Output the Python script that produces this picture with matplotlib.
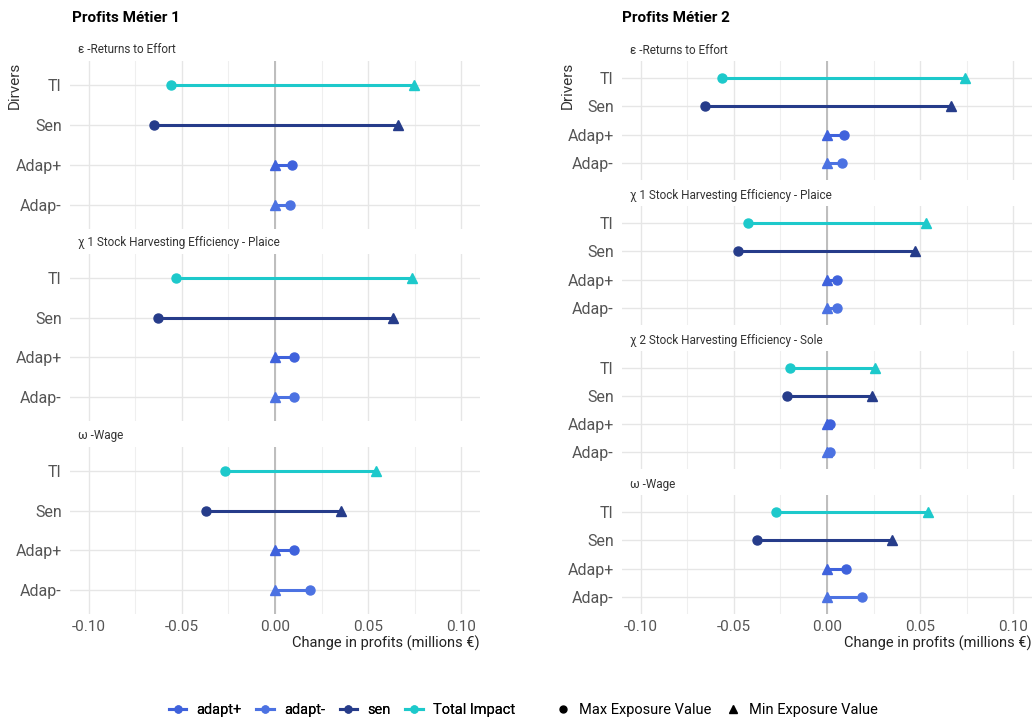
import numpy as np
import matplotlib
matplotlib.use("Agg")
import matplotlib.pyplot as plt
from matplotlib.lines import Line2D

plt.rcParams['font.family'] = ['Roboto', 'DejaVu Sans']

drivers = ["TI", "Sen", "Adap+", "Adap-"]
series = ["Total Impact", "sen", "adapt+", "adapt-"]
colors = {"adapt+": "#3F62DC", "adapt-": "#4C72E2", "sen": "#263C8A", "Total Impact": "#1DC9CB"}

# Profits Métier 1
m1_facets = ["ε -Returns to Effort", "χ 1 Stock Harvesting Efficiency - Plaice", "ω -Wage"]
m1_max = [[-0.0557, -0.0650, 0.0090, 0.0080],
          [-0.0530, -0.0630, 0.0100, 0.0100],
          [-0.0270, -0.0370, 0.0100, 0.0190]]
m1_min = [[0.0745, 0.0660, 0.0, 0.0],
          [0.0735, 0.0635, 0.0, 0.0],
          [0.0540, 0.0355, 0.0, 0.0]]

# Profits Métier 2
m2_facets = ["ε -Returns to Effort", "χ 1 Stock Harvesting Efficiency - Plaice",
             "χ 2 Stock Harvesting Efficiency - Sole", "ω -Wage"]
m2_max = [[-0.0565, -0.0655, 0.0090, 0.0080],
          [-0.0425, -0.0480, 0.0055, 0.0055],
          [-0.0200, -0.0215, 0.0015, 0.0015],
          [-0.0275, -0.0375, 0.0100, 0.0190]]
m2_min = [[0.0740, 0.0665, 0.0, 0.0],
          [0.0530, 0.0470, 0.0, 0.0],
          [0.0260, 0.0240, 0.0, 0.0],
          [0.0540, 0.0350, 0.0, 0.0]]

ticks = [-0.10, -0.05, 0.00, 0.05, 0.10]
tick_labels = ["-0.10", "-0.05", "0.00", "0.05", "0.10"]

W, H = 1035, 725
fig = plt.figure(figsize=(W / 100, H / 100), dpi=100)


def px_axes(x0, x1, y0, y1):
    return fig.add_axes([x0 / W, 1 - y1 / H, (x1 - x0) / W, (y1 - y0) / H])


def draw_facet(ax, title, vmax, vmin, show_x):
    y = np.arange(len(drivers))[::-1]
    ax.set_xlim(-0.11, 0.11)
    ax.set_ylim(-0.6, len(drivers) - 0.4)
    for s in ax.spines.values():
        s.set_visible(False)
    ax.set_xticks(ticks)
    ax.set_xticks([-0.075, -0.025, 0.025, 0.075], minor=True)
    ax.grid(True, which='major', color='#e6e6e6', lw=1.0)
    ax.grid(True, which='minor', axis='x', color='#efefef', lw=0.8)
    ax.set_axisbelow(True)
    ax.tick_params(length=0, which='both')
    ax.set_yticks(y)
    ax.set_yticklabels(drivers, fontsize=11.5, color='#555555')
    ax.tick_params(axis='y', pad=6)
    if show_x:
        ax.set_xticklabels(tick_labels, fontsize=11, color='#555555')
        ax.tick_params(axis='x', pad=4)
    else:
        ax.set_xticklabels([])
    ax.axvline(0, color='#bdbdbd', lw=1.4, zorder=1)
    for i, s in enumerate(series):
        c = colors[s]
        ax.plot([vmax[i], vmin[i]], [y[i], y[i]], color=c, lw=2.2, zorder=2)
        ax.plot(vmax[i], y[i], 'o', color=c, ms=6.5, zorder=3)
        ax.plot(vmin[i], y[i], '^', color=c, ms=7, zorder=3)
    ax.text(0.02, 1.03, title, transform=ax.transAxes, fontsize=8.5,
            color='#333333', ha='left', va='bottom')


# left column panels
left_rows = [(61, 229), (254, 421), (447, 614)]
for k, (t, b) in enumerate(left_rows):
    ax = px_axes(70, 480, t, b)
    draw_facet(ax, m1_facets[k], m1_max[k], m1_min[k], k == len(left_rows) - 1)

right_rows = [(61, 180), (206, 325), (351, 469), (495, 614)]
for k, (t, b) in enumerate(right_rows):
    ax = px_axes(622, 1032, t, b)
    draw_facet(ax, m2_facets[k], m2_max[k], m2_min[k], k == len(right_rows) - 1)

fig.text(72 / W, 1 - 18 / H, "Profits Métier 1", fontsize=11, fontweight='bold', va='center')
fig.text(622 / W, 1 - 18 / H, "Profits Métier 2", fontsize=11, fontweight='bold', va='center')
fig.text(15 / W, 1 - 85 / H, "Dirvers", rotation=90, fontsize=11, color='#333333', va='center', ha='center')
fig.text(568 / W, 1 - 85 / H, "Drivers", rotation=90, fontsize=11, color='#333333', va='center', ha='center')
fig.text(480 / W, 1 - 643 / H, "Change in profits (millions €)", fontsize=10.5, color='#222222', ha='right', va='center')
fig.text(1032 / W, 1 - 643 / H, "Change in profits (millions €)", fontsize=10.5, color='#222222', ha='right', va='center')

handles = [Line2D([], [], color=colors[s], lw=2.2, marker='o', ms=5) for s in ["adapt+", "adapt-", "sen", "Total Impact"]]
labels = ["adapt+", "adapt-", "sen", "Total Impact"]
leg1 = fig.legend(handles, labels, loc='center', bbox_to_anchor=(342 / W, 1 - 710 / H), ncol=4,
                  frameon=False, fontsize=10.5, handlelength=1.2, columnspacing=1.0, handletextpad=0.7)
shape_h = [Line2D([], [], color='black', lw=0, marker='o', ms=5),
           Line2D([], [], color='black', lw=0, marker='^', ms=6)]
fig.legend(shape_h, ["Max Exposure Value", "Min Exposure Value"], loc='center',
           bbox_to_anchor=(717 / W, 1 - 710 / H), ncol=2, frameon=False, fontsize=10.5,
           handlelength=1.0, columnspacing=1.0, handletextpad=0.6)
fig.add_artist(leg1)

fig.savefig("out.png", dpi=100, facecolor='white')
